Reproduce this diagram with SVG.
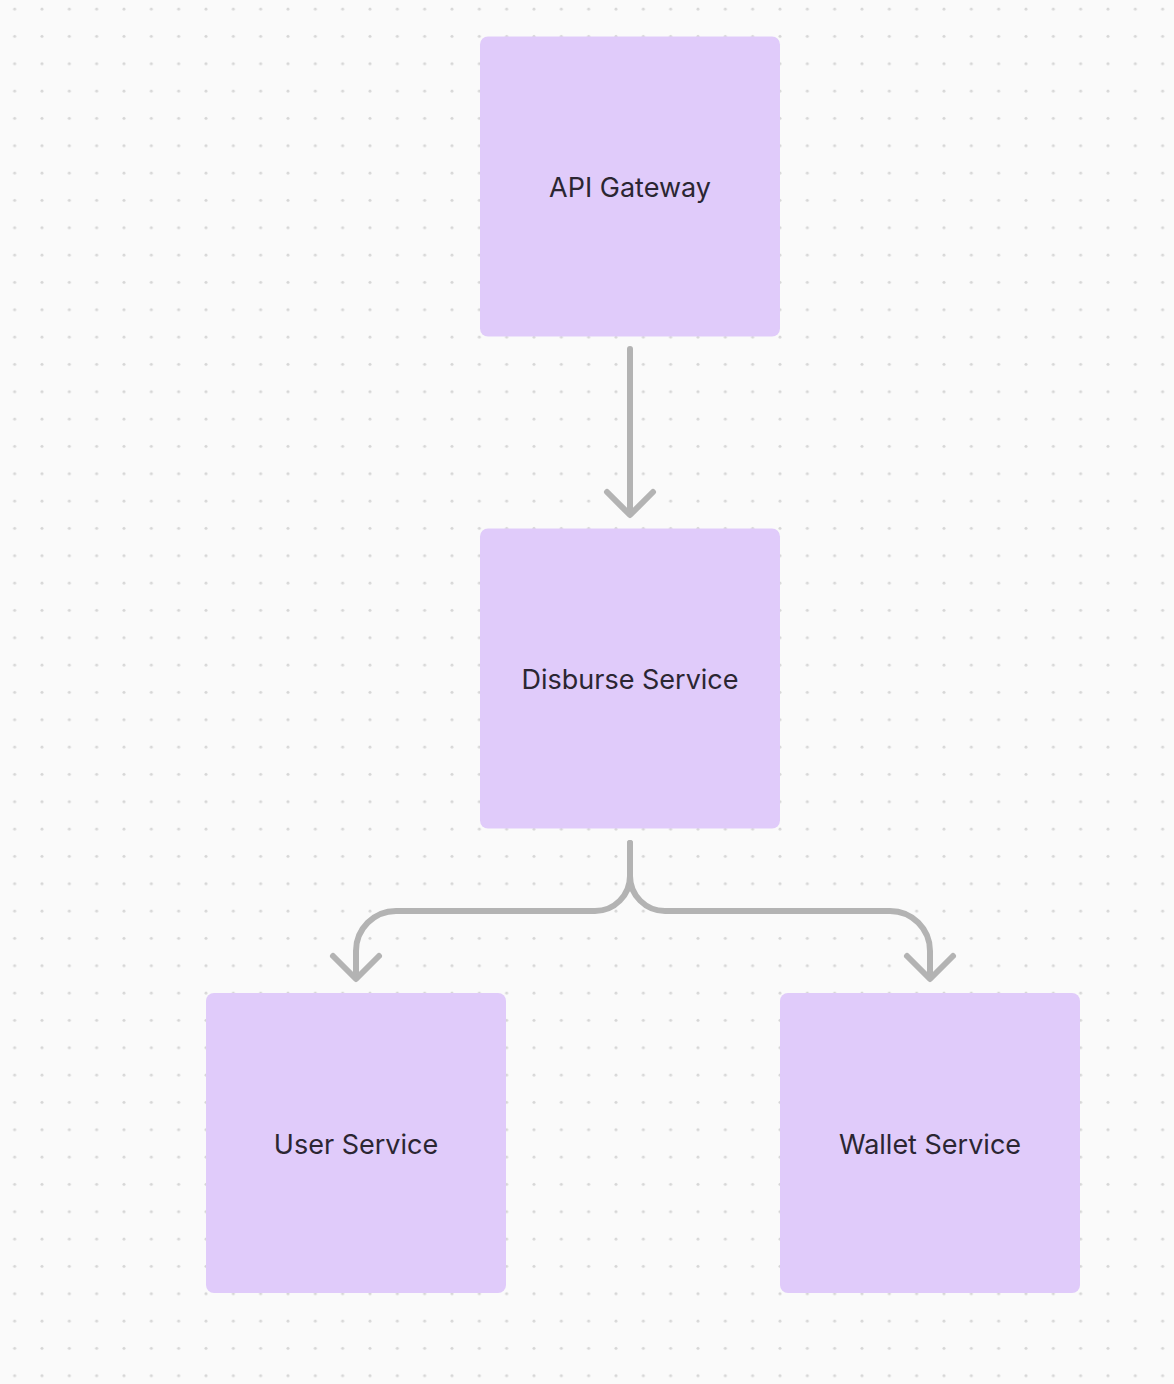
<svg xmlns="http://www.w3.org/2000/svg" width="1174" height="1384" viewBox="0 0 1174 1384">
<defs>
<pattern id="dots" x="0" y="0" width="27.333" height="27.333" patternUnits="userSpaceOnUse">
<circle cx="14.667" cy="9" r="1.5" fill="#d6d6d6"/>
</pattern>
</defs>
<style>
.node rect{fill:#e0cbfa;}
.node text{font-family:Inter,"Noto Sans",sans-serif;font-size:27px;fill:#2b2632;text-anchor:middle;}
.conn path{fill:none;stroke:#b3b3b3;stroke-width:6;stroke-linecap:round;stroke-linejoin:round;}
</style>
<rect x="0" y="0" width="1174" height="1384" fill="#fafafa"/>
<rect x="0" y="0" width="1174" height="1384" fill="url(#dots)"/>
<g id="api-gateway" class="node">
<rect x="480" y="36.5" width="300" height="300" rx="8"/>
<text x="630" y="197">API Gateway</text>
</g>
<g id="disburse-service" class="node">
<rect x="480" y="528.5" width="300" height="300" rx="8"/>
<text x="630" y="688.5">Disburse Service</text>
</g>
<g id="user-service" class="node">
<rect x="206" y="993" width="300" height="300" rx="8"/>
<text x="356" y="1153.5">User Service</text>
</g>
<g id="wallet-service" class="node">
<rect x="780" y="993" width="300" height="300" rx="8"/>
<text x="930" y="1153.5">Wallet Service</text>
</g>
<g id="connectors" class="conn">
<path d="M630,349 V513"/>
<path d="M607,492 L630,515 L653,492"/>
<path d="M630,843 V876 A35,35 0 0 1 595,911 H396 A40,40 0 0 0 356,951 V977"/>
<path d="M333,956 L356,979 L379,956"/>
<path d="M630,843 V876 A35,35 0 0 0 665,911 H890 A40,40 0 0 1 930,951 V977"/>
<path d="M907,956 L930,979 L953,956"/>
</g>
</svg>
